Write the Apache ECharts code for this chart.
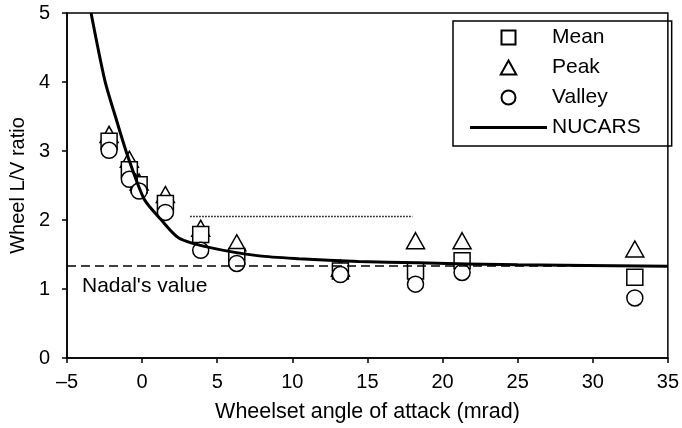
<!DOCTYPE html>
<html>
<head>
<meta charset="utf-8">
<script src="https://cdn.jsdelivr.net/npm/echarts@6/dist/echarts.min.js"></script>
<style>
  html, body { margin: 0; padding: 0; background: #fff; }
  #chart { width: 682px; height: 428px; }
</style>
</head>
<body>
<div id="chart"></div>
<script>
// 横轴刻度
const xTicks = [-5, 0, 5, 10, 15, 20, 25, 30, 35];

// 测量点（攻角 mrad）
const attackAngles = [-2.2, -0.85, -0.2, 1.55, 3.9, 6.3, 13.2, 18.2, 21.3, 32.8];
const meanValues   = [3.14, 2.73, 2.51, 2.24, 1.79, 1.47, 1.26, 1.26, 1.41, 1.17];
const peakValues   = [3.24, 2.88, 2.55, 2.37, 1.88, 1.67, 1.30, 1.70, 1.70, 1.58];
const valleyValues = [3.01, 2.59, 2.42, 2.11, 1.56, 1.37, 1.21, 1.07, 1.24, 0.87];

// NUCARS 仿真曲线
const nucarsX = [-3.4, -2.48, -1.71, -0.95, 0.14, 1.24, 2.44, 4.53, 7.8, 10.44, 14.4, 18.3, 25, 35];
const nucarsY = [5.0, 4.02, 3.45, 2.92, 2.30, 2.01, 1.74, 1.60, 1.48, 1.44, 1.40, 1.38, 1.35, 1.33];

// 参考线
const nadalValue = 1.333;
const dottedLevel = 2.05;
const dottedRange = [3.2, 18];

const FONT = "'Liberation Sans', Arial, Helvetica, sans-serif";

function pairs(xs, ys) {
    return xs.map((x, i) => [x, ys[i]]);
}

const markerStyle = {
    color: '#fff',
    borderColor: '#000',
    borderWidth: 1.5,
    opacity: 1
};

const chart = echarts.init(document.getElementById('chart'));

const option = {
    animation: false,
    backgroundColor: '#fff',
    textStyle: { fontFamily: FONT, color: '#000' },
    grid: {
        left: 64, right: 8, top: 13, bottom: 69,
        show: true,
        borderColor: '#000',
        borderWidth: 1.5
    },
    legend: {
        data: [
            { name: 'Mean', icon: 'path://M0 0H10V10H0Z' },
            { name: 'Peak', icon: 'path://M5 0L10 9L0 9Z' },
            { name: 'Valley' },
            // 图例中只画一条粗线
            { name: 'NUCARS', icon: 'path://M0 0H77V3H0Z', itemStyle: { color: '#000', borderWidth: 0 } }
        ],
        orient: 'vertical',
        left: 453,
        top: 21,
        itemWidth: 77,
        itemHeight: 14,
        itemGap: 9,
        padding: [6, 31, 8, 17],
        symbolKeepAspect: true,
        borderColor: '#000',
        borderWidth: 1.5,
        textStyle: { fontFamily: FONT, fontSize: 21, color: '#000' },
        selectedMode: false
    },
    xAxis: {
        type: 'value',
        min: -5,
        max: 35,
        interval: 5,
        name: 'Wheelset angle of attack (mrad)',
        nameLocation: 'middle',
        nameGap: 43,
        nameTextStyle: { fontFamily: FONT, fontSize: 21.5, color: '#000' },
        axisLine: { onZero: false, lineStyle: { color: '#000', width: 1.5 } },
        axisTick: { show: true, length: 5, lineStyle: { color: '#000', width: 1.5 } },
        axisLabel: {
            fontFamily: FONT, fontSize: 20, color: '#000', margin: 14,
            formatter: v => (v < 0 ? '\u2013' + Math.abs(v) : String(v))
        },
        splitLine: { show: false }
    },
    yAxis: {
        type: 'value',
        min: 0,
        max: 5,
        interval: 1,
        name: 'Wheel L/V ratio',
        nameLocation: 'middle',
        nameGap: 39,
        nameTextStyle: { fontFamily: FONT, fontSize: 20, color: '#000' },
        axisLine: { show: true, onZero: false, lineStyle: { color: '#000', width: 1.5 } },
        axisTick: { show: true, length: 5, lineStyle: { color: '#000', width: 1.5 } },
        axisLabel: { fontFamily: FONT, fontSize: 20, color: '#000', margin: 17 },
        splitLine: { show: false }
    },
    graphic: [{
        type: 'text',
        left: 82,
        top: 276,
        style: { text: "Nadal's value", font: '21px ' + FONT, fill: '#000' }
    }],
    series: [
        {
            name: 'Nadal',
            type: 'line',
            data: [[-5, nadalValue], [35, nadalValue]],
            showSymbol: false,
            symbol: 'none',
            lineStyle: { color: '#000', width: 1.5, type: [9, 5] },
            silent: true
        },
        {
            name: 'Limit',
            type: 'line',
            data: [[dottedRange[0], dottedLevel], [dottedRange[1], dottedLevel]],
            showSymbol: false,
            symbol: 'none',
            lineStyle: { color: '#000', width: 1.5, type: [1.5, 1.5] },
            silent: true
        },
        {
            name: 'Peak',
            type: 'scatter',
            symbol: 'triangle',
            symbolSize: [18, 16],
            data: pairs(attackAngles, peakValues),
            itemStyle: markerStyle
        },
        {
            name: 'Mean',
            type: 'scatter',
            symbol: 'rect',
            symbolSize: 16,
            data: pairs(attackAngles, meanValues),
            itemStyle: markerStyle
        },
        {
            name: 'Valley',
            type: 'scatter',
            symbol: 'circle',
            symbolSize: 16,
            data: pairs(attackAngles, valleyValues),
            itemStyle: markerStyle
        },
        {
            name: 'NUCARS',
            type: 'line',
            data: pairs(nucarsX, nucarsY),
            smooth: 0.25,
            showSymbol: false,
            symbol: 'none',
            itemStyle: { color: '#000' },
            lineStyle: { color: '#000', width: 3 },
            z: 5
        }
    ]
};

chart.setOption(option);
</script>
</body>
</html>
